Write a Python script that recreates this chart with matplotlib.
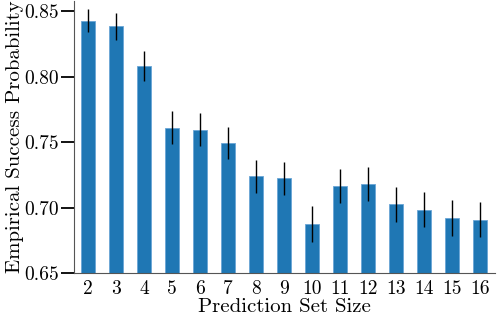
import numpy as np
import matplotlib
matplotlib.use("Agg")
import matplotlib.pyplot as plt

# ============================================
# DATA
# ============================================

set_sizes = [2, 3, 4, 5, 6, 7, 8, 9, 10, 11, 12, 13, 14, 15, 16]
success_prob = [0.843, 0.8385, 0.8085, 0.761, 0.7597, 0.7495, 0.7238, 0.7223,
                0.6874, 0.7169, 0.7182, 0.7024, 0.6983, 0.6920, 0.6907]
err = [0.0088, 0.0107, 0.0115, 0.0125, 0.0123, 0.0124, 0.0128, 0.0129,
       0.0135, 0.0130, 0.0131, 0.0133, 0.0133, 0.0135, 0.0135]

# ============================================
# STYLE
# ============================================

plt.rcParams["font.family"] = "serif"
plt.rcParams["font.serif"] = ["cmr10", "DejaVu Serif"]
plt.rcParams["mathtext.fontset"] = "cm"
plt.rcParams["axes.formatter.use_mathtext"] = True

# ============================================
# PLOT
# ============================================

fig = plt.figure(figsize=(4.98, 3.22), dpi=100)
ax = fig.add_axes([73.5 / 498, 1 - 273 / 322, 421 / 498, 272 / 322])

pos = np.arange(len(set_sizes))
ax.bar(pos, success_prob, width=0.5, color="#1f77b4",
       edgecolor="#6aa5d6", linewidth=0.6,
       yerr=err, error_kw=dict(ecolor="black", elinewidth=1.0, capsize=0))

ax.set_xlim(-0.52, len(set_sizes) - 0.48)
ax.set_ylim(0.65, 0.858)
ax.set_yticks([0.65, 0.70, 0.75, 0.80, 0.85])
ax.set_yticklabels(["0.65", "0.70", "0.75", "0.80", "0.85"])
ax.set_xticks(pos)
ax.set_xticklabels([str(s) for s in set_sizes])

ax.spines["top"].set_visible(False)
ax.spines["right"].set_visible(False)
ax.spines["left"].set_color("#555555")
ax.spines["bottom"].set_color("#555555")

ax.tick_params(axis="y", length=9.5, width=1.3, pad=1, labelsize=14)
ax.tick_params(axis="x", length=0, pad=5, labelsize=14)

ax.set_xlabel("Prediction Set Size", fontsize=15, labelpad=0)
ax.set_ylabel("Empirical Success Probability", fontsize=15, labelpad=0)

fig.savefig("out.png", dpi=100)
plt.close(fig)
